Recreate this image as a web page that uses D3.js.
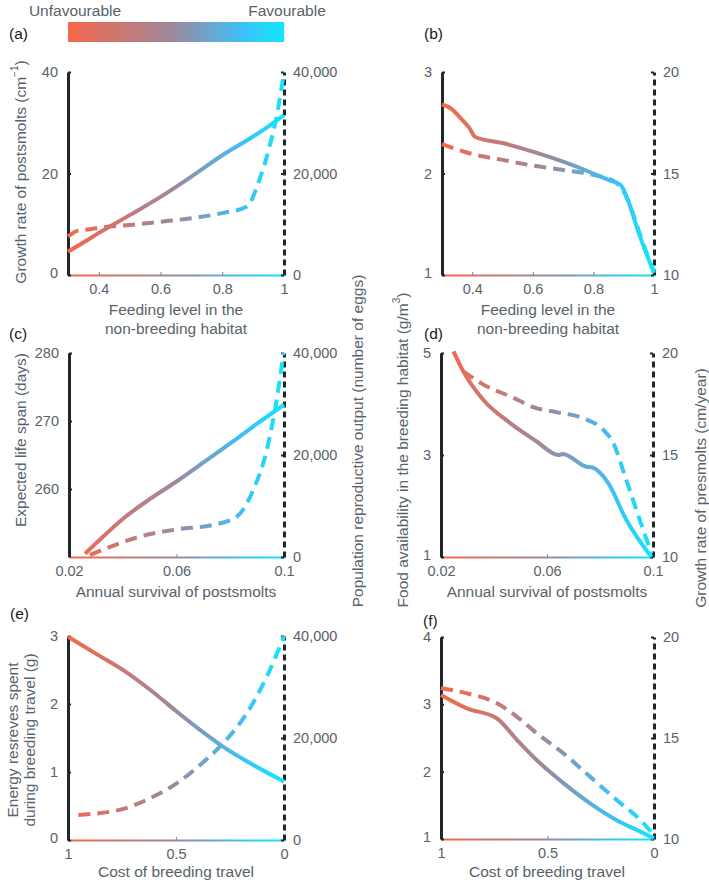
<!DOCTYPE html>
<html>
<head>
<meta charset="utf-8">
<script src="https://cdn.jsdelivr.net/npm/d3@7"></script>
<style>
body { margin: 0; background: #fff; }
text { font-family: "Liberation Sans", Arial, sans-serif; }
</style>
</head>
<body>
<div id="my_dataviz"></div>
<script>
// panel (a)
var aX = [0.3, 0.35, 0.4, 0.5, 0.6, 0.7, 0.8, 0.9, 0.95, 1]
var aSolid = [4.6, 6.4, 8.3, 11.8, 15.4, 19.4, 23.6, 27.3, 29.3, 31.5]
var aDashX = [0.3, 0.33, 0.37, 0.4, 0.5, 0.6, 0.7, 0.8, 0.88, 0.92, 0.95, 0.98, 1]
var aDash = [7600, 8700, 9000, 9300, 9850, 10500, 11200, 12200, 13500, 18700, 24600, 32500, 40000]

// panel (b)
var bX = [0.3, 0.33, 0.36, 0.39, 0.41, 0.5, 0.6, 0.7, 0.8, 0.85, 0.89, 0.91, 0.95, 1]
var bSolid = [2.68, 2.64, 2.55, 2.45, 2.36, 2.30, 2.215, 2.116, 2.0, 1.936, 1.887, 1.77, 1.41, 1.02]
var bDashX = [0.3, 0.4, 0.5, 0.6, 0.7, 0.8, 0.87, 0.9, 0.93, 0.96, 1]
var bDash = [16.45, 15.96, 15.67, 15.39, 15.17, 14.93, 14.6, 14.1, 13.04, 11.72, 10.16]

// panel (c)
var cX = [0.026, 0.03, 0.04, 0.05, 0.06, 0.07, 0.08, 0.09, 0.1]
var cSolid = [250.5, 252.0, 255.6, 258.5, 261.1, 263.9, 266.7, 269.6, 272.4]
var cDashX = [0.0278, 0.0353, 0.0464, 0.06, 0.0737, 0.0824, 0.0886, 0.0936, 0.0973, 0.0998]
var cDash = [400, 2000, 4000, 5400, 6300, 7900, 13200, 21000, 30900, 40000]

// panel (d)
var dX = [0.0247, 0.0284, 0.036, 0.046, 0.056, 0.0643, 0.066, 0.0749, 0.0768, 0.083, 0.0899, 0.0994]
var dSolid = [5.03, 4.64, 4.08, 3.63, 3.27, 3.0, 3.02, 2.77, 2.76, 2.46, 1.73, 1.0]
var dDashX = [0.0284, 0.036, 0.046, 0.056, 0.0635, 0.0737, 0.0812, 0.085, 0.0899, 0.095, 0.0994]
var dDash = [19.1, 18.45, 17.88, 17.3, 17.1, 16.8, 16.24, 15.59, 13.78, 11.82, 10.18]

// panel (e)
var eX = [1, 0.85, 0.736, 0.62, 0.497, 0.389, 0.281, 0.157, 0]
var eSolid = [2.99, 2.70, 2.48, 2.21, 1.89, 1.62, 1.37, 1.13, 0.86]
var eDashX = [0.952, 0.736, 0.62, 0.497, 0.389, 0.281, 0.173, 0.08, 0]
var eDash = [4900, 6200, 8200, 11100, 14700, 19000, 24800, 32000, 39900]

// panel (f)
var fX = [1, 0.878, 0.737, 0.643, 0.55, 0.425, 0.3, 0.175, 0.064, 0]
var fSolid = [3.14, 2.94, 2.79, 2.47, 2.17, 1.83, 1.53, 1.28, 1.11, 1.01]
var fDash = [17.46, 17.21, 16.72, 16.05, 15.23, 14.24, 13.08, 11.93, 10.94, 10.2]

// tick values
var feedTicks = [0.4, 0.6, 0.8, 1]
var survTicks = [0.02, 0.06, 0.1]
var costTicks = [1, 0.5, 0]
var eggTicks = [0, 20000, 40000]
var presmoltTicks = [10, 15, 20]
var aTicks = [0, 20, 40]
var bTicks = [1, 2, 3]
var cTicks = [260, 270, 280]
var dTicks = [1, 3, 5]
var eTicks = [0, 1, 2, 3]
var fTicks = [1, 2, 3, 4]

var gradStops = [
  {offset: "0%", color: "#f7674a"},
  {offset: "50%", color: "#9a8aa0"},
  {offset: "80%", color: "#3fbff7"},
  {offset: "100%", color: "#12e6fb"}
]

var textGray = "#58626a"
var axisDark = "#1f2828"

var panels = [
  {id: "a", L: 68, R: 284, T: 72, B: 275, xd: [0.3, 1], yd: [0, 40], y2d: [0, 40000],
   xs: aX, ys: aSolid, dxs: aDashX, dys: aDash, xt: feedTicks, yt: aTicks, y2t: eggTicks, lx: 9, ly: 33},
  {id: "b", L: 442, R: 654, T: 72, B: 275, xd: [0.3, 1], yd: [1, 3], y2d: [10, 20],
   xs: bX, ys: bSolid, dxs: bDashX, dys: bDash, xt: feedTicks, yt: bTicks, y2t: presmoltTicks, lx: 424, ly: 33},
  {id: "c", L: 69, R: 284, T: 353, B: 557, xd: [0.02, 0.1], yd: [250, 280], y2d: [0, 40000],
   xs: cX, ys: cSolid, dxs: cDashX, dys: cDash, xt: survTicks, yt: cTicks, y2t: eggTicks, lx: 9, ly: 333},
  {id: "d", L: 441, R: 653, T: 353, B: 557, xd: [0.02, 0.1], yd: [1, 5], y2d: [10, 20],
   xs: dX, ys: dSolid, dxs: dDashX, dys: dDash, xt: survTicks, yt: dTicks, y2t: presmoltTicks, lx: 424, ly: 333},
  {id: "e", L: 68, R: 284, T: 636, B: 840, xd: [1, 0], yd: [0, 3], y2d: [0, 40000],
   xs: eX, ys: eSolid, dxs: eDashX, dys: eDash, xt: costTicks, yt: eTicks, y2t: eggTicks, lx: 10, ly: 613},
  {id: "f", L: 441, R: 654, T: 637, B: 839, xd: [1, 0], yd: [1, 4], y2d: [10, 20],
   xs: fX, ys: fSolid, dxs: fX, dys: fDash, xt: costTicks, yt: fTicks, y2t: presmoltTicks, lx: 423, ly: 620}
]

var svg = d3.select("#my_dataviz")
  .append("svg")
    .attr("width", 709)
    .attr("height", 882)

var defs = svg.append("defs")

function addGradient(id, x1, x2) {
  var g = defs.append("linearGradient")
    .attr("id", id)
    .attr("gradientUnits", "userSpaceOnUse")
    .attr("x1", x1).attr("x2", x2)
    .attr("y1", 0).attr("y2", 0)
  g.selectAll("stop")
    .data(gradStops)
    .enter()
    .append("stop")
    .attr("offset", function(d) { return d.offset })
    .attr("stop-color", function(d) { return d.color })
}

// colour bar at the top
addGradient("barGrad", 68, 284)
svg.append("rect")
  .attr("x", 68).attr("y", 22)
  .attr("width", 216).attr("height", 20)
  .style("fill", "url(#barGrad)")
svg.append("text").attr("x", 75).attr("y", 10).text("Unfavourable")
  .attr("text-anchor", "middle").attr("dominant-baseline", "central")
  .style("font-size", "15.5px").style("fill", textGray)
svg.append("text").attr("x", 287).attr("y", 10).text("Favourable")
  .attr("text-anchor", "middle").attr("dominant-baseline", "central")
  .style("font-size", "15.5px").style("fill", textGray)

function styleTicks(g) {
  g.selectAll("text")
    .style("font-size", "14.5px")
    .style("font-family", "'Liberation Sans', Arial, sans-serif")
    .style("fill", textGray)
}

var plain = d3.format("")

panels.forEach(function(p) {
  var x = d3.scaleLinear().domain(p.xd).range([p.L, p.R])
  var y = d3.scaleLinear().domain(p.yd).range([p.B, p.T])
  var y2 = d3.scaleLinear().domain(p.y2d).range([p.B, p.T])

  addGradient("grad_" + p.id, p.L, p.R)
  var gradUrl = "url(#grad_" + p.id + ")"

  // bottom axis (gradient coloured)
  var xAxis = svg.append("g")
    .attr("transform", "translate(0," + p.B + ")")
    .call(d3.axisBottom(x).tickValues(p.xt).tickSizeInner(-3).tickSizeOuter(0).tickPadding(9)
      .tickFormat(plain))
  xAxis.select(".domain").style("stroke", gradUrl).style("stroke-width", 2)
  xAxis.selectAll(".tick line").style("stroke", "#8a94a0").style("stroke-width", 1.2)
  styleTicks(xAxis)

  // left axis, solid
  var yAxis = svg.append("g")
    .attr("transform", "translate(" + p.L + ",0)")
    .call(d3.axisLeft(y).tickValues(p.yt).tickSizeInner(-3).tickSizeOuter(0).tickPadding(10)
      .tickFormat(plain))
  yAxis.select(".domain").style("stroke", axisDark).style("stroke-width", 3)
  yAxis.selectAll(".tick line").style("stroke", axisDark).style("stroke-width", 2)
  styleTicks(yAxis)
  // lowest left label sits a little higher, clear of the x tick label
  yAxis.selectAll(".tick text").filter(function(d) { return d === p.yd[0] })
    .attr("dy", "0.2em")

  // right axis, dashed
  var y2Axis = svg.append("g")
    .attr("transform", "translate(" + p.R + ",0)")
    .call(d3.axisRight(y2).tickValues(p.y2t).tickSizeInner(-3).tickSizeOuter(0).tickPadding(9)
      .tickFormat(d3.format(",")))
  y2Axis.select(".domain").style("stroke", axisDark).style("stroke-width", 3)
    .style("stroke-dasharray", "6,4")
  y2Axis.selectAll(".tick line").style("stroke", axisDark).style("stroke-width", 2)
  styleTicks(y2Axis)

  // solid line: left axis variable
  var solidLine = d3.line()
    .x(function(d, i) { return x(p.xs[i]) })
    .y(function(d) { return y(d) })
    .curve(d3.curveMonotoneX)
  svg.append("path")
    .datum(p.ys)
    .attr("d", solidLine)
    .style("fill", "none")
    .style("stroke", gradUrl)
    .style("stroke-width", 4)
    .style("stroke-linejoin", "round")

  // dashed line: right axis variable
  var dashLine = d3.line()
    .x(function(d, i) { return x(p.dxs[i]) })
    .y(function(d) { return y2(d) })
    .curve(d3.curveMonotoneX)
  svg.append("path")
    .datum(p.dys)
    .attr("d", dashLine)
    .style("fill", "none")
    .style("stroke", gradUrl)
    .style("stroke-width", 4)
    .style("stroke-dasharray", "12,7")

  // panel letter
  svg.append("text")
    .attr("x", p.lx).attr("y", p.ly)
    .attr("dominant-baseline", "central")
    .text("(" + p.id + ")")
    .style("font-size", "15.5px")
    .style("fill", "#1a1a1a")
})

// axis titles
function label(txt, xp, yp, rot) {
  var t = svg.append("text")
    .attr("text-anchor", "middle")
    .attr("dominant-baseline", "central")
    .style("font-size", "15.5px")
    .style("fill", textGray)
  if (rot) t.attr("transform", "translate(" + xp + "," + yp + ") rotate(-90)")
  else t.attr("x", xp).attr("y", yp)
  t.text(txt)
  return t
}

label("Feeding level in the", 176, 309)
label("non-breeding habitat", 176, 328)
label("Feeding level in the", 548, 309)
label("non-breeding habitat", 548, 328)
label("Annual survival of postsmolts", 176, 591)
label("Annual survival of postsmolts", 547, 591)
label("Cost of breeding travel", 176, 871)
label("Cost of breeding travel", 547, 871)

var gl = label("Growth rate of postsmolts (cm", 20, 172, true)
gl.append("tspan").attr("baseline-shift", "super").style("font-size", "10px").text("\u22121")
gl.append("tspan").text(")")

label("Expected life span (days)", 20, 440, true)
label("Energy resreves spent", 12, 740, true)
label("during breeding travel (g)", 29, 740, true)
label("Population reproductive output (number of eggs)", 357, 441, true)

var fl = label("Food availability in the breeding habitat (g/m", 402, 450, true)
fl.append("tspan").attr("baseline-shift", "super").style("font-size", "10px").text("3")
fl.append("tspan").text(")")

label("Growth rate of presmolts (cm/year)", 700, 488, true)
</script>
</body>
</html>
